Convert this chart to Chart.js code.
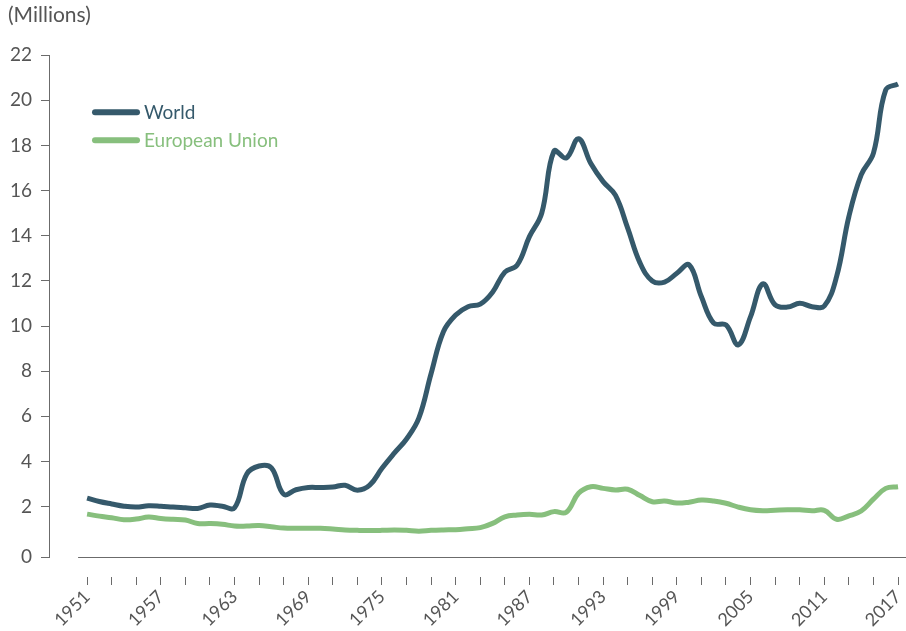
<!DOCTYPE html>
<html>
<head>
<meta charset="utf-8">
<script src="https://cdn.jsdelivr.net/npm/chart.js@4/dist/chart.umd.min.js"></script>
<style>
  html, body { margin: 0; padding: 0; background: #fff; }
  #wrap { width: 906px; height: 631px; }
</style>
</head>
<body>
<div id="wrap"><canvas id="myChart"></canvas></div>
<script>
const years = [
  1951, 1952, 1953, 1954, 1955, 1956, 1957, 1958, 1959, 1960,
  1961, 1962, 1963, 1964, 1965, 1966, 1967, 1968, 1969, 1970,
  1971, 1972, 1973, 1974, 1975, 1976, 1977, 1978, 1979, 1980,
  1981, 1982, 1983, 1984, 1985, 1986, 1987, 1988, 1989, 1990,
  1991, 1992, 1993, 1994, 1995, 1996, 1997, 1998, 1999, 2000,
  2001, 2002, 2003, 2004, 2005, 2006, 2007, 2008, 2009, 2010,
  2011, 2012, 2013, 2014, 2015, 2016, 2017,
];
const world = [
  2.38, 2.23, 2.12, 2.02, 1.98, 2.04, 2.02, 1.98, 1.95, 1.92,
  2.07, 2.02, 1.95, 3.45, 3.8, 3.72, 2.55, 2.75, 2.85, 2.85,
  2.87, 2.95, 2.73, 2.95, 3.7, 4.37, 5.0, 5.92, 7.9, 9.75,
  10.49, 10.86, 10.97, 11.5, 12.39, 12.7, 13.96, 15.0, 17.75, 17.45,
  18.3, 17.2, 16.4, 15.8, 14.34, 12.8, 12.0, 11.95, 12.34, 12.71,
  11.3, 10.13, 10.05, 9.17, 10.42, 11.87, 10.94, 10.84, 11.01, 10.86,
  10.89, 12.19, 14.85, 16.7, 17.66, 20.46, 20.72,
];
const eu = [
  1.67, 1.58, 1.51, 1.42, 1.45, 1.54, 1.48, 1.44, 1.41, 1.25,
  1.25, 1.22, 1.14, 1.14, 1.16, 1.11, 1.05, 1.04, 1.04, 1.04,
  1.01, 0.97, 0.95, 0.94, 0.95, 0.97, 0.95, 0.91, 0.95, 0.97,
  0.98, 1.02, 1.07, 1.26, 1.55, 1.63, 1.66, 1.63, 1.78, 1.75,
  2.59, 2.88, 2.81, 2.74, 2.77, 2.49, 2.22, 2.25, 2.16, 2.2,
  2.29, 2.25, 2.15, 1.98, 1.86, 1.82, 1.84, 1.86, 1.86, 1.82,
  1.84, 1.44, 1.59, 1.81, 2.33, 2.81, 2.88,
];
const labelYears = [1951, 1957, 1963, 1969, 1975, 1981, 1987, 1993, 1999, 2005, 2011, 2017];
const yTicks = [0, 2, 4, 6, 8, 10, 12, 14, 16, 18, 20, 22];

const worldColor = "#35596b";
const euColor = "#87bf7d";
const axisColor = "#6b6b6b";
const textColor = "#555555";
const yBottom = -0.23; // the zero tick sits on the x axis line, a bit below value 0

// legend drawn inside the plot, top left
const insideLegend = {
  id: "insideLegend",
  afterDraw(chart) {
    const ctx = chart.ctx;
    const area = chart.chartArea;
    ctx.save();
    chart.data.datasets.forEach((ds, i) => {
      const y = area.top + 57 + i * 28;
      const x = area.left + 46;
      ctx.strokeStyle = ds.borderColor;
      ctx.lineWidth = 6;
      ctx.lineCap = "round";
      ctx.beginPath();
      ctx.moveTo(x, y);
      ctx.lineTo(x + 42, y);
      ctx.stroke();
      ctx.fillStyle = ds.borderColor;
      ctx.font = "19px Lato";
      ctx.textBaseline = "middle";
      ctx.fillText(ds.label, x + 49, y + 1);
    });
    ctx.restore();
  },
};

// x axis line starts a little left of the first year, not at the y axis
const xAxisLine = {
  id: "xAxisLine",
  afterDraw(chart) {
    const ctx = chart.ctx;
    const xs = chart.scales.x;
    const y = Math.round(chart.chartArea.bottom) + 0.5;
    ctx.save();
    ctx.strokeStyle = axisColor;
    ctx.lineWidth = 1;
    ctx.beginPath();
    ctx.moveTo(xs.getPixelForValue(years[0]) - 9, y);
    ctx.lineTo(chart.chartArea.right, y);
    ctx.stroke();
    ctx.restore();
  },
};

const ctx = document.getElementById("myChart").getContext("2d");
const myChart = new Chart(ctx, {
  type: "line",
  data: {
    labels: years,
    datasets: [
      {
        label: "World",
        data: world,
        borderColor: worldColor,
        borderWidth: 5,
        tension: 0.4,
        pointRadius: 0,
        fill: false,
      },
      {
        label: "European Union",
        data: eu,
        borderColor: euColor,
        borderWidth: 5,
        tension: 0.4,
        pointRadius: 0,
        fill: false,
      },
    ],
  },
  options: {
    responsive: true,
    maintainAspectRatio: false,
    animation: false,
    layout: { padding: { left: 8, right: 0, top: 0, bottom: 0 } },
    plugins: {
      legend: { display: false },
      tooltip: { enabled: false },
      title: {
        display: true,
        text: "(Millions)",
        align: "start",
        color: textColor,
        font: { family: "Lato", size: 21, weight: "normal" },
        padding: { top: 3, bottom: 27 },
      },
    },
    scales: {
      x: {
        type: "linear",
        min: 1947.9,
        max: 2017.65,
        afterBuildTicks: (scale) => {
          scale.ticks = years.filter((y, i) => i % 2 === 0).map((v) => ({ value: v }));
        },
        afterFit: (scale) => {
          // labels sit well inside the plot, no extra side room needed
          scale.paddingLeft = 0;
          scale.paddingRight = 0;
          scale.height = 74;
        },
        border: { display: false },
        grid: {
          drawOnChartArea: false,
          tickLength: 28,
          tickColor: axisColor,
          tickWidth: 1,
          tickBorderDash: [0, 20, 8, 100],
        },
        ticks: {
          autoSkip: false,
          minRotation: 45,
          maxRotation: 45,
          padding: 1,
          color: textColor,
          font: { family: "Lato", size: 18 },
          callback: (v) => (labelYears.includes(v) ? String(v) : ""),
        },
      },
      y: {
        min: yBottom,
        max: 22,
        afterBuildTicks: (scale) => {
          scale.ticks = yTicks.map((v) => ({ value: v === 0 ? yBottom : v }));
        },
        afterFit: (scale) => {
          scale.width = 41;
        },
        border: { display: true, color: axisColor, width: 1 },
        grid: {
          drawOnChartArea: false,
          tickLength: 8,
          tickColor: axisColor,
        },
        ticks: {
          padding: 9,
          color: textColor,
          font: { family: "Lato", size: 19 },
          callback: (v) => (v === yBottom ? "0" : String(v)),
        },
      },
    },
  },
  plugins: [insideLegend, xAxisLine],
});
</script>
</body>
</html>
